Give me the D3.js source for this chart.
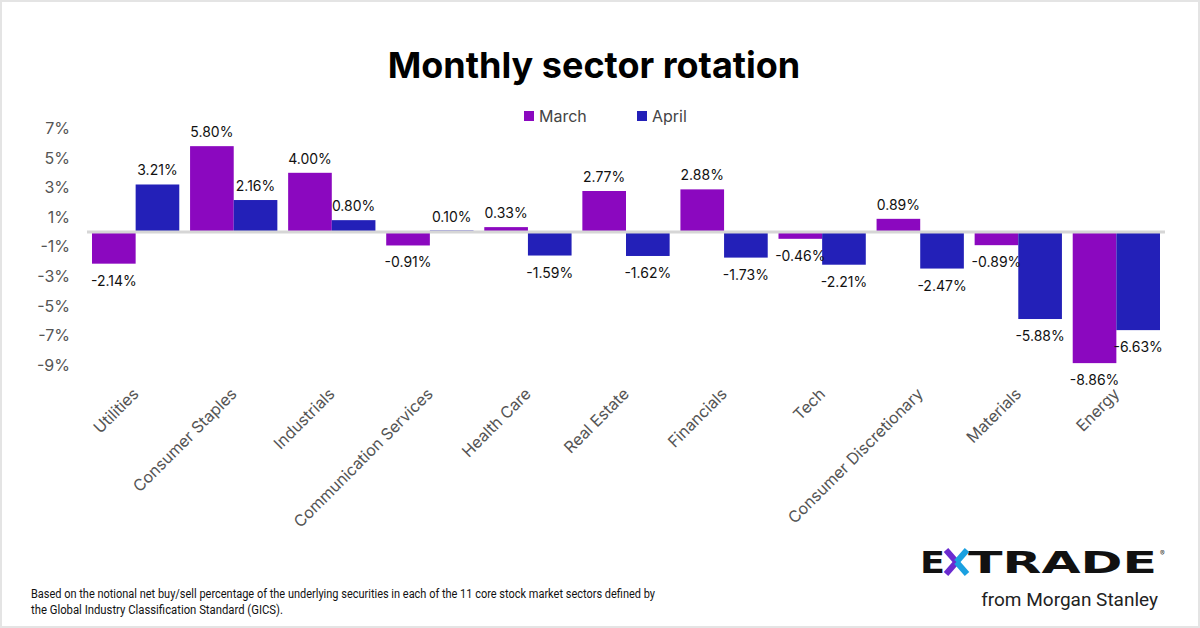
<!DOCTYPE html>
<html>
<head>
<meta charset="utf-8">
<script src="https://cdn.jsdelivr.net/npm/d3@7"></script>
<style>
  html, body { margin: 0; padding: 0; background: #fff; }
  svg { display: block; font-family: Inter, "Noto Sans", sans-serif; }
</style>
</head>
<body>
<svg id="chart" width="1200" height="628"></svg>
<script>
// sectors and monthly net buy/sell percentages
var sectors = ["Utilities", "Consumer Staples", "Industrials", "Communication Services", "Health Care",
  "Real Estate", "Financials", "Tech", "Consumer Discretionary", "Materials", "Energy"];
var march = [-2.14, 5.80, 4.00, -0.91, 0.33, 2.77, 2.88, -0.46, 0.89, -0.89, -8.86];
var april = [3.21, 2.16, 0.80, 0.10, -1.59, -1.62, -1.73, -2.21, -2.47, -5.88, -6.63];
var months = ["March", "April"];
var yTicks = [7, 5, 3, 1, -1, -3, -5, -7, -9];

var colors = {March: "#8b08bf", April: "#2320b8"};

var svg = d3.select("#chart");

// light frame round the card
svg.append("rect").attr("x", 1).attr("y", 1).attr("width", 1198).attr("height", 626)
  .attr("fill", "#fff").attr("stroke", "#e4e4e4").attr("stroke-width", 2);

svg.append("text").attr("x", 594).attr("y", 78).attr("text-anchor", "middle")
  .style("font-size", "36px").style("font-weight", 700).attr("fill", "#000")
  .text("Monthly sector rotation");

var y = d3.scaleLinear().domain([-10, 8]).range([380, 113.6]);
var x0 = d3.scaleBand().domain(sectors).range([92, 1160]).paddingInner(0.11);
var x1 = d3.scaleBand().domain(months).range([0, x0.bandwidth()]);

// y axis
var yAxis = svg.append("g").attr("transform", "translate(78,0)")
  .call(d3.axisLeft(y).tickValues(yTicks).tickSize(0).tickPadding(8).tickFormat(function(d) { return d + "%"; }));
yAxis.select(".domain").remove();
yAxis.selectAll("text").style("font-size", "16px").style("font-family", "Inter, sans-serif").attr("fill", "#555");

var rows = sectors.map(function(s, i) {
  return {sector: s, values: [{m: "March", v: march[i]}, {m: "April", v: april[i]}]};
});

var groups = svg.append("g").selectAll("g").data(rows).join("g")
  .attr("transform", function(d) { return "translate(" + x0(d.sector) + ",0)"; });

groups.selectAll("rect").data(function(d) { return d.values; }).join("rect")
  .attr("x", function(d) { return x1(d.m); })
  .attr("width", x1.bandwidth())
  .attr("y", function(d) { return y(Math.max(0, d.v)); })
  .attr("height", function(d) { return Math.abs(y(d.v) - y(0)); })
  .attr("fill", function(d) { return colors[d.m]; });

groups.selectAll("text").data(function(d) { return d.values; }).join("text")
  .attr("x", function(d) { return x1(d.m) + x1.bandwidth() / 2; })
  .attr("y", function(d) { return d.v >= 0 ? y(d.v) - 9 : y(d.v) + 22; })
  .attr("text-anchor", "middle")
  .style("font-size", "14px")
  .attr("fill", "#111")
  .text(function(d) { return d.v.toFixed(2) + "%"; });

// zero line
svg.append("line").attr("x1", 87).attr("x2", 1165).attr("y1", y(0)).attr("y2", y(0))
  .attr("stroke", "#d6d6d6").attr("stroke-width", 3);

// x labels
svg.append("g").selectAll("text").data(sectors).join("text")
  .attr("transform", function(d) {
    return "translate(" + (x0(d) + x0.bandwidth() / 2 + 4) + ",395) rotate(-45)";
  })
  .attr("text-anchor", "end")
  .style("font-size", "16px")
  .attr("fill", "#555")
  .text(function(d) { return d; });

// legend
var legend = svg.append("g").selectAll("g").data(months).join("g")
  .attr("transform", function(d, i) { return "translate(" + (524 + i * 113) + ",111)"; });
legend.append("rect").attr("width", 10).attr("height", 10).attr("fill", function(d) { return colors[d]; });
legend.append("text").attr("x", 15).attr("y", 11).style("font-size", "16px").attr("fill", "#444")
  .text(function(d) { return d; });

// footnote
var foot = svg.append("text").attr("x", 31).style("font-family", "'Liberation Sans Narrow', 'Roboto', sans-serif")
  .style("font-size", "12px").attr("fill", "#111");
foot.append("tspan").attr("x", 31).attr("y", 598).attr("textLength", 624).attr("lengthAdjust", "spacingAndGlyphs")
  .text("Based on the notional net buy/sell percentage of the underlying securities in each of the 11 core stock market sectors defined by");
foot.append("tspan").attr("x", 31).attr("y", 614).attr("textLength", 252).attr("lengthAdjust", "spacingAndGlyphs")
  .text("the Global Industry Classification Standard (GICS).");

// logo
var logo = svg.append("g");
logo.append("text").attr("x", 920).attr("y", 573).attr("textLength", 25).attr("lengthAdjust", "spacingAndGlyphs")
  .style("font-family", "'DejaVu Sans', sans-serif").style("font-weight", 700).style("font-size", "30px")
  .attr("fill", "#111").text("E");
logo.append("text").attr("x", 968).attr("y", 573).attr("textLength", 189).attr("lengthAdjust", "spacingAndGlyphs")
  .style("font-family", "'DejaVu Sans', sans-serif").style("font-weight", 700).style("font-size", "30px")
  .attr("fill", "#111").text("TRADE");
var arms = [
  {x: 946, y: 550, c: "#6a2bd0"}, {x: 946, y: 574, c: "#6a2bd0"},
  {x: 967, y: 550, c: "#1aa0e0"}, {x: 967, y: 574, c: "#1aa0e0"}
];
logo.selectAll("line").data(arms).join("line")
  .attr("x1", 956.5).attr("y1", 562).attr("x2", function(d) { return d.x; }).attr("y2", function(d) { return d.y; })
  .attr("stroke", function(d) { return d.c; }).attr("stroke-width", 6);
logo.append("text").attr("x", 1160).attr("y", 556).style("font-size", "7px").attr("fill", "#333").text("®");
logo.append("text").attr("x", 1158).attr("y", 606).attr("text-anchor", "end")
  .style("font-family", "Roboto, sans-serif").style("font-size", "19px").attr("fill", "#222")
  .text("from Morgan Stanley");
</script>
</body>
</html>
